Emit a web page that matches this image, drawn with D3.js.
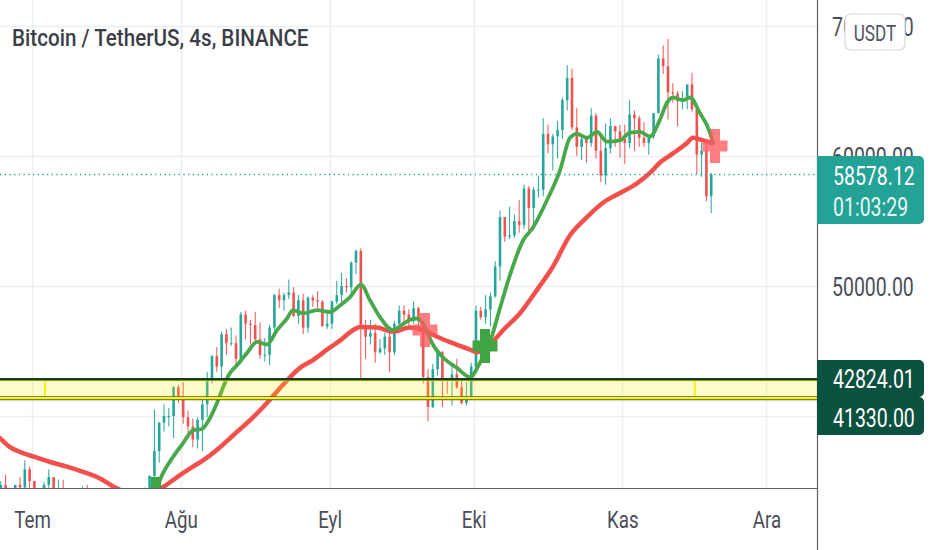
<!DOCTYPE html>
<html><head><meta charset="utf-8">
<script src="https://cdn.jsdelivr.net/npm/d3@7"></script>
<style>html,body{margin:0;padding:0;background:#fff;overflow:hidden}</style>
</head><body><svg id="c" width="932" height="550"></svg>
<script>
// ---------- DATA ----------
const title = "Bitcoin / TetherUS, 4s, BINANCE";
const firstDay = "2021-06-24", lastDay = "2021-11-19";
const opens = [32500,34700,31600,32200,34700,34500,35900,
 35000,33500,33800,34700,35300,33700,34200,33900,32900,33800,33500,34300,33100,32700,32800,31900,31400,31500,31800,30800,29800,32100,32300,33600,34300,35400,37300,39500,40000,40000,42200,
 41500,39900,39200,38200,39700,40900,42800,44600,43800,46300,45600,45600,44400,47800,47100,47000,45900,44700,44700,46800,49300,48900,49300,49500,47700,48900,46800,49100,48900,48800,46900,
 47100,48800,49300,50000,49900,51800,52700,46900,46100,46400,44900,45200,46100,44900,47100,48100,47800,47300,48300,47300,43000,40700,43600,44900,42800,42700,43200,42200,41000,41500,
 43800,48100,47600,48200,49200,51500,55300,53800,53900,55000,54700,57500,56000,57400,57400,61700,60900,61500,62000,64300,66000,62200,60700,61300,61000,63100,60400,58500,60600,62300,61900,
 61300,61000,63200,62900,61400,61000,61500,63300,67500,66900,64900,64800,64200,64400,65500,63600,60100,60400,56900];
const highs = [35000,35500,32700,34700,35300,36600,36100,
 35000,33900,34900,35900,35300,35100,35100,33900,34100,34300,34600,34700,33300,33100,33200,32300,31900,32400,31900,31000,32900,32600,33600,34500,35400,40500,39500,40900,40600,42300,42400,
 42600,40400,39800,39900,41400,43400,44700,45300,46500,46700,46800,46200,48000,48100,47400,48000,47200,46000,47000,49400,49800,49500,50500,49900,49300,49400,49200,49300,49600,48900,48200,
 48900,50400,51000,50600,51900,52800,52900,47400,47400,47100,45900,46400,46900,47300,48500,48500,48200,48800,48400,47300,43600,44000,44900,45000,42900,43900,44400,42800,42600,44100,
 48500,48400,49300,49500,51900,55800,55300,56100,55500,56600,57800,57700,57600,58500,62900,62400,61700,62700,64500,67000,66700,63700,61700,61500,63700,63300,61500,62500,62900,62300,62400,
 62400,64300,63500,63100,62600,61600,63300,67800,68500,69000,65600,65000,65000,65500,66400,63600,61000,60900,58700];
const lows = [32300,31300,30200,32000,33900,34200,34000,
 32700,32700,33300,34400,33100,33700,33800,32100,32300,33000,33300,32700,32200,31600,31100,31000,31200,31100,30400,29300,29500,31700,31900,33400,33900,35200,36400,38800,39200,38300,41000,
 39400,38700,37600,37500,37300,39900,42500,43400,42800,44700,45400,43800,44300,45900,45500,45600,44400,44200,43900,46600,48300,48100,49000,47600,47100,46300,46400,48400,48300,46900,46700,
 46700,48600,48400,49500,49500,50900,42800,44400,45500,44100,44800,44700,43400,44700,46700,47000,46800,47100,46800,42500,39600,40600,43100,40700,41700,40800,42100,40900,40800,41400,
 43300,47400,47100,46900,49100,50400,53400,53600,53700,54100,54400,53900,54300,56800,56900,60200,58900,59800,61300,63500,62000,60000,59700,59500,60700,59800,58000,57800,60200,60700,59900,
 59400,60600,60400,60700,60700,60100,61300,63300,66300,62800,64100,62300,63600,63600,63400,58600,58400,56500,55600];
const closes = [34700,31600,32200,34700,34500,35900,35000,
 33500,33800,34700,35300,33700,34200,33900,32900,33800,33500,34300,33100,32700,32800,31900,31400,31500,31800,30800,29800,32100,32300,33600,34300,35400,37300,39500,40000,40000,42200,41500,
 39900,39200,38200,39700,40900,42800,44600,43800,46300,45600,45600,44400,47800,47100,47000,45900,44700,44700,46800,49300,48900,49300,49500,47700,48900,46800,49100,48900,48800,46900,47100,
 48800,49300,50000,49900,51800,52700,46900,46100,46400,44900,45200,46100,44900,47100,48100,47800,47300,48300,47300,43000,40700,43600,44900,42800,42700,43200,42200,41000,41500,43800,
 48100,47600,48200,49200,51500,55300,53800,53900,55000,54700,57500,56000,57400,57400,61700,60900,61500,62000,64300,66000,62200,60700,61300,61000,63100,60400,58500,60600,62300,61900,61300,
 61000,63200,62900,61400,61000,61500,63300,67500,66900,64900,64800,64200,64400,65500,63600,60100,60400,56900,58578.12];

// fast moving average (green)
const fastDates = ["2021-06-24T08","2021-07-04T00","2021-07-12T00","2021-07-20T00","2021-07-24T00","2021-07-26T00",
 "2021-07-27T01","2021-07-28T07","2021-07-30T09","2021-08-01T11","2021-08-03T13","2021-08-05T10","2021-08-06T11","2021-08-08T13","2021-08-09T19","2021-08-11T06","2021-08-12T17","2021-08-14T19","2021-08-16T21","2021-08-18T23","2021-08-21T01","2021-08-23T03","2021-08-24T09","2021-08-26T11","2021-08-29T09",
 "2021-09-01T02","2021-09-03T04","2021-09-05T06","2021-09-07T13","2021-09-09T10","2021-09-11T12","2021-09-14T05","2021-09-15T16","2021-09-17T18","2021-09-19T05","2021-09-20T21","2021-09-22T08","2021-09-24T15","2021-09-27T13","2021-09-30T06",
 "2021-10-02T08","2021-10-04T10","2021-10-06T12","2021-10-08T14","2021-10-11T07","2021-10-13T09","2021-10-16T07","2021-10-19T00","2021-10-21T02","2021-10-22T13","2021-10-24T15","2021-10-26T17","2021-10-28T19","2021-10-31T12",
 "2021-11-02T14","2021-11-04T16","2021-11-06T18","2021-11-08T20","2021-11-10T07","2021-11-11T13","2021-11-13T15","2021-11-15T02","2021-11-17T04","2021-11-19T06","2021-11-19T21"];
const fastValues = [33700,34000,33600,32300,32800,33900,
 34550,35600,36850,37900,38900,39000,39450,41000,42200,43300,43900,44850,45700,45500,46600,47500,48150,47900,48150,
 48000,48500,49150,50100,48900,47600,46600,46900,47400,47500,46850,45600,44500,43700,43000,
 44100,45700,48300,50850,53500,54500,56600,58900,61400,61700,61400,61850,61100,61200,
 61800,61850,61500,62800,64100,64500,64300,64500,63300,61800,61000];

// slow moving average (red)
const slowDates = ["2021-06-24T08","2021-06-26T10","2021-06-29T03","2021-07-02T01","2021-07-04T18","2021-07-08T07","2021-07-11T15","2021-07-15T04","2021-07-18T07","2021-07-21T12","2021-07-24T12",
 "2021-07-28T07","2021-07-31T20","2021-08-03T13","2021-08-06T11","2021-08-09T04","2021-08-11T21","2021-08-16T01","2021-08-18T23","2021-08-22T07","2021-08-25T20","2021-08-28T13","2021-08-31T11",
 "2021-09-02T19","2021-09-07T13","2021-09-10T21","2021-09-14T05","2021-09-17T18","2021-09-20T11","2021-09-23T09","2021-09-26T17","2021-09-30T06",
 "2021-10-01T17","2021-10-04T10","2021-10-07T03","2021-10-10T16","2021-10-14T05","2021-10-17T13","2021-10-21T02","2021-10-24T15","2021-10-27T23","2021-10-31T12",
 "2021-11-04T01","2021-11-06T18","2021-11-08T20","2021-11-11T13","2021-11-14T11","2021-11-15T17","2021-11-17T19","2021-11-19T21"];
const slowValues = [38300,37600,37150,36800,36460,36100,35700,35200,34500,34050,33950,
 34540,35460,36100,36800,37600,38500,39900,41000,42400,43700,44300,45100,
 45700,46850,46800,46500,46800,46600,46100,45600,45100,
 44900,45500,46600,47900,49700,51500,53900,55300,56400,57150,
 57900,58700,59500,60200,61000,61400,61200,61000];

// crossover markers
const crossDates = ["2021-07-26T20","2021-09-20T21","2021-10-03T09","2021-11-20T07"];
const crossValues = [34000,46615,45385,60770];
const crossTypes = ["buy","sell","buy","sell"];

// horizontal levels
const levelTop = 42824.01, levelBottom = 41330.00;
const boxStartDate = "2021-07-03T17", boxEndDate = "2021-11-16T02";
const lastPrice = 58578.12, countdown = "01:03:29";
const priceTicks = [40000,50000,60000,70000];
const monthDates = ["2021-07-01","2021-08-01","2021-09-01","2021-10-01","2021-11-01","2021-12-01"];
const monthLabels = ["Tem","Ağu","Eyl","Eki","Kas","Ara"];

// ---------- CHART ----------
const svg = d3.select("#c");
const PR = 817, PB = 488, SX = 0.78;
const pd = d3.utcParse("%Y-%m-%d"), ph = d3.utcParse("%Y-%m-%dT%H");
const x = d3.scaleUtc().domain([pd("2021-07-01"), pd("2021-12-01")]).range([32, 766.4]);
const y = d3.scaleLinear().domain([40000,70000]).range([416,26]);
const fmt = d3.format(".2f");
const FONT = "Roboto, 'Noto Sans', sans-serif";

svg.append("defs").append("clipPath").attr("id","plot")
  .append("rect").attr("x",0).attr("y",0).attr("width",PR).attr("height",PB);

// grid
const grid = svg.append("g");
grid.selectAll("line.h").data(priceTicks).join("line")
  .attr("x1",0).attr("x2",PR).attr("y1",d=>Math.round(y(d))+0.5).attr("y2",d=>Math.round(y(d))+0.5)
  .attr("stroke","#eceff3").attr("stroke-width",1.5);
grid.selectAll("line.v").data(monthDates).join("line")
  .attr("x1",d=>Math.round(x(pd(d)))+0.5).attr("x2",d=>Math.round(x(pd(d)))+0.5).attr("y1",0).attr("y2",PB)
  .attr("stroke","#eceff3").attr("stroke-width",1.5);

const plot = svg.append("g").attr("clip-path","url(#plot)");

// candles
const days = d3.utcDay.range(pd(firstDay), d3.utcDay.offset(pd(lastDay),1));
const candles = days.map((d,i)=>({t:d3.utcHour.offset(d,12),o:opens[i],h:highs[i],l:lows[i],c:closes[i]}));
const cg = plot.append("g");
cg.selectAll("line").data(candles).join("line")
  .attr("x1",d=>x(d.t)).attr("x2",d=>x(d.t)).attr("y1",d=>y(d.h)).attr("y2",d=>y(d.l))
  .attr("stroke",d=>d.c>=d.o?"#26a69a":"#ef5350").attr("stroke-width",1);
cg.selectAll("rect").data(candles).join("rect")
  .attr("x",d=>x(d.t)-1.3).attr("width",2.6)
  .attr("y",d=>y(Math.max(d.o,d.c))).attr("height",d=>Math.max(1,Math.abs(y(d.o)-y(d.c))))
  .attr("fill",d=>d.c>=d.o?"#26a69a":"#ef5350");

// moving averages
const line = d3.line().x(d=>x(d[0])).y(d=>y(d[1])).curve(d3.curveMonotoneX);
plot.append("path").datum(slowDates.map((d,i)=>[ph(d),slowValues[i]]))
  .attr("d",line).attr("fill","none").attr("stroke","#f3504c").attr("stroke-width",4.5)
  .attr("stroke-linejoin","round").attr("stroke-linecap","round");
plot.append("path").datum(fastDates.map((d,i)=>[ph(d),fastValues[i]]))
  .attr("d",line).attr("fill","none").attr("stroke","#47a94b").attr("stroke-width",3.8)
  .attr("stroke-linejoin","round").attr("stroke-linecap","round");

// crosses
const crosses = crossDates.map((d,i)=>({t:ph(d),v:crossValues[i],k:crossTypes[i]}));
const xg = plot.selectAll("g.cross").data(crosses).join("g")
  .attr("transform",d=>`translate(${x(d.t)},${y(d.v)})`)
  .attr("fill",d=>d.k==="buy"?"#3fa543":"#ff5a5f").attr("fill-opacity",d=>d.k==="buy"?1:0.78);
xg.append("path").attr("d","M-12.5,-5.5H-5V-17H5V-5.5H12.5V5.5H5V17H-5V5.5H-12.5Z");

// dotted last price line
plot.append("line").attr("x1",0).attr("x2",PR).attr("y1",y(lastPrice)).attr("y2",y(lastPrice))
  .attr("stroke","#26a69a").attr("stroke-width",1.3).attr("stroke-dasharray","1.3,3.4");

// yellow band
const band = plot.append("g");
band.append("rect").attr("x",0).attr("width",PR).attr("y",y(levelTop)).attr("height",y(levelBottom)-y(levelTop))
  .attr("fill","rgba(255,242,0,0.2)");
band.selectAll("line.vb").data([boxStartDate,boxEndDate]).join("line")
  .attr("x1",d=>x(ph(d))).attr("x2",d=>x(ph(d))).attr("y1",y(levelTop)).attr("y2",y(levelBottom))
  .attr("stroke","#f5ef1a").attr("stroke-width",2);
band.append("line").attr("x1",0).attr("x2",PR).attr("y1",y(levelBottom)-0.5).attr("y2",y(levelBottom)-0.5)
  .attr("stroke","#55601e").attr("stroke-width",4);
band.append("line").attr("x1",0).attr("x2",PR).attr("y1",y(levelBottom)-0.5).attr("y2",y(levelBottom)-0.5)
  .attr("stroke","#f6f21c").attr("stroke-width",2.2);
band.append("line").attr("x1",0).attr("x2",PR).attr("y1",y(levelTop)+1).attr("y2",y(levelTop)+1)
  .attr("stroke","#f6f21c").attr("stroke-width",2);
band.append("line").attr("x1",0).attr("x2",PR).attr("y1",y(levelTop)).attr("y2",y(levelTop))
  .attr("stroke","#143d22").attr("stroke-width",2.4);

// axes frame
svg.append("line").attr("x1",PR+0.5).attr("x2",PR+0.5).attr("y1",0).attr("y2",550).attr("stroke","#5d606b").attr("stroke-width",1.2);
svg.append("line").attr("x1",0).attr("x2",PR).attr("y1",PB+0.5).attr("y2",PB+0.5).attr("stroke","#5d606b").attr("stroke-width",1.2);

// right axis
const ya = svg.append("g").attr("transform",`translate(${PR},0)`)
  .call(d3.axisRight(y).tickValues(priceTicks).tickFormat(fmt).tickSize(0));
ya.select(".domain").remove();
ya.selectAll("text").attr("x",15/SX).attr("dy","0.36em").attr("transform",`scale(${SX},1)`)
  .attr("font-family",FONT).attr("font-size",25).attr("fill","#4a4d57");

// bottom axis
const xa = svg.append("g").attr("transform",`translate(0,${PB})`)
  .call(d3.axisBottom(x).tickValues(monthDates.map(pd)).tickFormat((d,i)=>monthLabels[i]).tickSize(0));
xa.select(".domain").remove();
xa.selectAll("text").attr("y",40).attr("dy",0).attr("transform",`scale(${SX},1)`)
  .attr("x",0).attr("font-family",FONT).attr("font-size",24).attr("fill","#4a4d57");

// USDT button
svg.append("rect").attr("x",845).attr("y",14).attr("width",60).attr("height",36).attr("rx",6)
  .attr("fill","#fff").attr("stroke","#d6d9e0").attr("stroke-width",1.2);
svg.append("text").attr("transform",`translate(875,41) scale(${SX},1)`).attr("text-anchor","middle")
  .attr("font-family",FONT).attr("font-size",22).attr("fill","#50535e").text("USDT");

// last price label
const lp = svg.append("g");
lp.append("path").attr("d",`M${PR},${156}H919a5,5 0 0 1 5,5V219a5,5 0 0 1 -5,5H${PR}Z`).attr("fill","#25a296");
lp.append("text").attr("transform",`translate(833,${185}) scale(${SX},1)`)
  .attr("font-family",FONT).attr("font-size",25).attr("fill","#fff").text(fmt(lastPrice));
lp.append("text").attr("transform",`translate(833,${216}) scale(${SX},1)`)
  .attr("font-family",FONT).attr("font-size",25).attr("fill","#e8f7f4").text(countdown);

// level labels
const levels = [levelTop, levelBottom];
const lg = svg.selectAll("g.lvl").data(levels).join("g");
lg.append("path").attr("d",(d,i)=>{const t=i===0?360:397, b=i===0?397:435;
  return `M${PR},${t}H919a5,5 0 0 1 5,5V${b-5}a5,5 0 0 1 -5,5H${PR}Z`;}).attr("fill","#0b5140");
lg.append("text").attr("transform",(d,i)=>`translate(833,${i===0?388:427}) scale(${SX},1)`)
  .attr("font-family",FONT).attr("font-size",25).attr("fill","#fff").text(d=>fmt(d));

// title
svg.append("text").attr("transform",`translate(12,46) scale(0.86,1)`)
  .attr("font-family",FONT).attr("font-size",24).attr("font-weight",500).attr("fill","#3b3e47").text(title);
</script></body></html>
